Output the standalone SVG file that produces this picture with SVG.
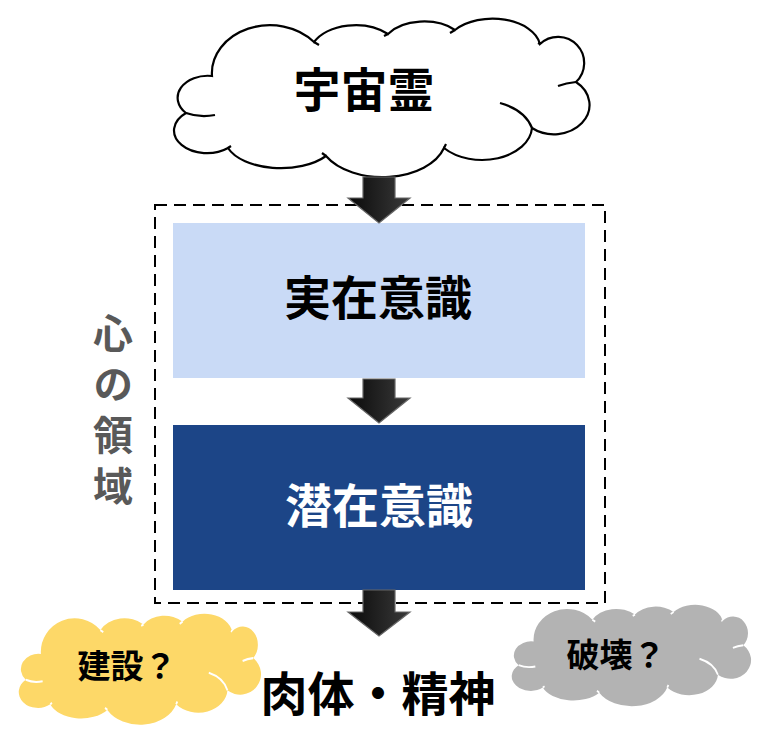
<svg xmlns="http://www.w3.org/2000/svg" width="766" height="740" viewBox="0 0 766 740">
<defs>
<style>
.t{font-family:"Noto Sans CJK JP","Noto Sans CJK SC",sans-serif;font-weight:bold;text-anchor:middle;dominant-baseline:central}
.arrow{fill:url(#ag);stroke:#666;stroke-width:1.2}
</style>
<linearGradient id="ag" x1="0" y1="0" x2="1" y2="0">
<stop offset="0" stop-color="#0a0a0a"/>
<stop offset="1" stop-color="#3a3a3a"/>
</linearGradient>
<path id="cloud" d="M212,76 A58,48 0 0 1 314,42 A46,30 0 0 1 388,34 A42,26 0 0 1 455,30 A48,30 0 0 1 540,44 A26,26 0 0 1 576,82 A34,28 0 0 1 532,128 A50,34 0 0 1 444,148 A64,40 0 0 1 326,156 A56,30 0 0 1 228,148 A32,22 0 0 1 186,113 A30,22 0 0 1 212,76 Z"/>
<path id="crease" d="M186,113 Q200,118 215,115 M576,82 Q566,83 558,86 M500,103 Q525,110 532,128 M314,42 L319,45 M388,34 L384,36 M455,30 L450,33 M540,44 L538,43 M444,148 L446,144 M326,156 L322,153 M228,148 L231,146"/>
</defs>
<rect width="766" height="740" fill="#fff"/>

<g id="cloud-top">
<use href="#cloud" fill="#fff" stroke="#000" stroke-width="2.2"/>
<use href="#crease" fill="none" stroke="#000" stroke-width="2.2"/>
<text class="t" x="364" y="86" font-size="47">宇宙霊</text>
</g>

<g id="region">
<rect x="155" y="205" width="450" height="398" fill="none" stroke="#000" stroke-width="2" stroke-dasharray="12 7"/>
<text x="113" y="313" font-family="Noto Sans CJK JP, Noto Sans CJK SC, sans-serif" font-weight="bold" font-size="40" fill="#595959" writing-mode="vertical-rl" letter-spacing="11">心の領域</text>
</g>

<g id="real">
<rect x="173" y="223" width="412" height="155" fill="#c9daf6"/>
<text class="t" x="378" y="294" font-size="47">実在意識</text>
</g>

<g id="sub">
<rect x="173" y="425" width="412" height="165" fill="#1c4587"/>
<text class="t" x="379" y="502" font-size="47" fill="#fff">潜在意識</text>
</g>

<g id="build">
<g transform="translate(17,614) scale(0.583,0.70) translate(-171,-19)">
<use href="#cloud" fill="#fdd868"/>
<use href="#crease" fill="none" stroke="#fff" stroke-width="3"/>
</g>
<text class="t" x="127" y="664" font-size="33">建設？</text>
</g>

<g id="destroy">
<g transform="translate(510,605) scale(0.576,0.64) translate(-171,-19)">
<use href="#cloud" fill="#b3b3b3"/>
<use href="#crease" fill="none" stroke="#fff" stroke-width="3"/>
</g>
<text class="t" x="616" y="653" font-size="33">破壊？</text>
</g>

<g id="body">
<text class="t" x="378" y="690" font-size="47">肉体・精神</text>
</g>

<g id="connectors">
<path class="arrow" d="M363,177 H395 V198 H410 L379,223 L348,198 H363 Z"/>
<path class="arrow" d="M363,379 H395 V398 H410 L379,423 L348,398 H363 Z"/>
<path class="arrow" d="M363,590 H395 V612 H410 L379,636 L348,612 H363 Z"/>
</g>
</svg>
